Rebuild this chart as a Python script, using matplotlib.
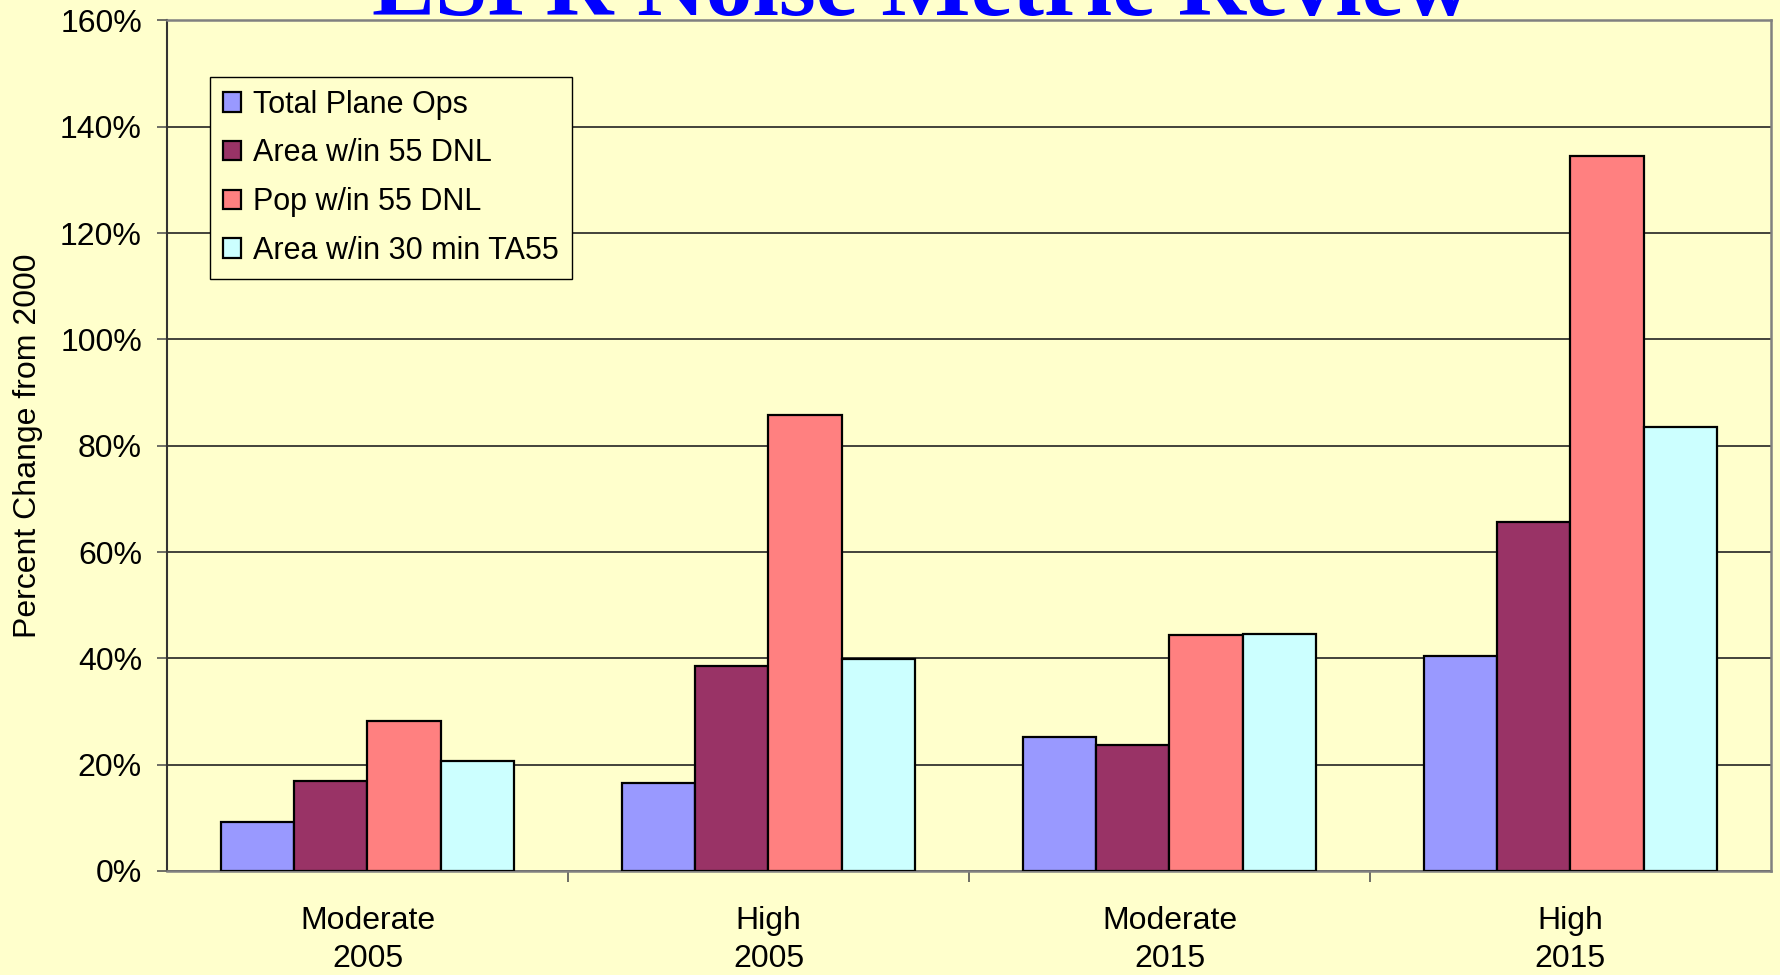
import numpy as np
import matplotlib
matplotlib.use("Agg")
import matplotlib.pyplot as plt
from matplotlib.ticker import PercentFormatter

plt.rcParams['font.family'] = ['Liberation Sans', 'DejaVu Sans']

categories = ["Moderate\n2005", "High\n2005", "Moderate\n2015", "High\n2015"]
series = ["Total Plane Ops", "Area w/in 55 DNL", "Pop w/in 55 DNL", "Area w/in 30 min TA55"]
total_ops = [9.3, 16.5, 25.2, 40.4]
area_dnl = [16.9, 38.6, 23.7, 65.7]
pop_dnl = [28.3, 85.8, 44.3, 134.5]
area_ta55 = [20.7, 39.8, 44.6, 83.5]
colors = ['#9999FF', '#993366', '#FF8080', '#CCFFFF']
bg = '#FFFFCC'

fig = plt.figure(figsize=(17.8, 9.75), dpi=100, facecolor=bg)
ax = fig.add_axes([0.0938, 0.1067, 0.9011, 0.8723], facecolor=bg)

x = np.arange(len(categories))
w = 0.1825
for i, (vals, name) in enumerate(zip([total_ops, area_dnl, pop_dnl, area_ta55], series)):
    ax.bar(x + (i - 1.5) * w, vals, width=w, color=colors[i], edgecolor='black',
           linewidth=1.6, label=name, zorder=3)

ax.set_xlim(-0.5, 3.5)
ax.set_ylim(0, 160)
ax.set_yticks(range(0, 161, 20))
ax.yaxis.set_major_formatter(PercentFormatter(decimals=0))
ax.set_xticks(x)
ax.set_xticklabels(categories, linespacing=1.38)
ax.set_xticks([0.5, 1.5, 2.5], minor=True)
ax.tick_params(axis='x', which='major', length=0, pad=25, labelsize=23)
ax.tick_params(axis='x', which='minor', length=8, width=1.2, color='#555555')
ax.tick_params(axis='y', length=7, width=1.2, color='#555555', pad=11, labelsize=23)

ax.grid(axis='y', color='#222222', linewidth=1.2, zorder=0)
ax.set_axisbelow(True)
for side in ['top', 'right', 'bottom']:
    ax.spines[side].set_color('#808080')
    ax.spines[side].set_linewidth(1.8)
ax.spines['left'].set_color('#333333')
ax.spines['left'].set_linewidth(1.5)

fig.text(28 / 1780, 1 - 446 / 975, "Percent Change from 2000", rotation=90,
         ha='center', va='center', fontsize=23)

leg = ax.legend(loc='upper left', bbox_to_anchor=(0.0268, 0.9336), borderaxespad=0,
                fontsize=22, frameon=True, fancybox=False, framealpha=1,
                edgecolor='black', facecolor=bg, handlelength=0.6, handleheight=0.6,
                handletextpad=0.4, labelspacing=0.61, borderpad=0.42)
leg.get_frame().set_linewidth(1.0)
for h in leg.legend_handles:
    h.set_linewidth(1.6)

fig.text(0.518, 0.9846, "ESPR Noise Metric Review", ha='center', va='baseline',
         fontsize=68, fontweight='bold', color='#0000FF',
         family=['Liberation Serif', 'DejaVu Serif'])

fig.savefig("out.png", dpi=100, facecolor=bg)
